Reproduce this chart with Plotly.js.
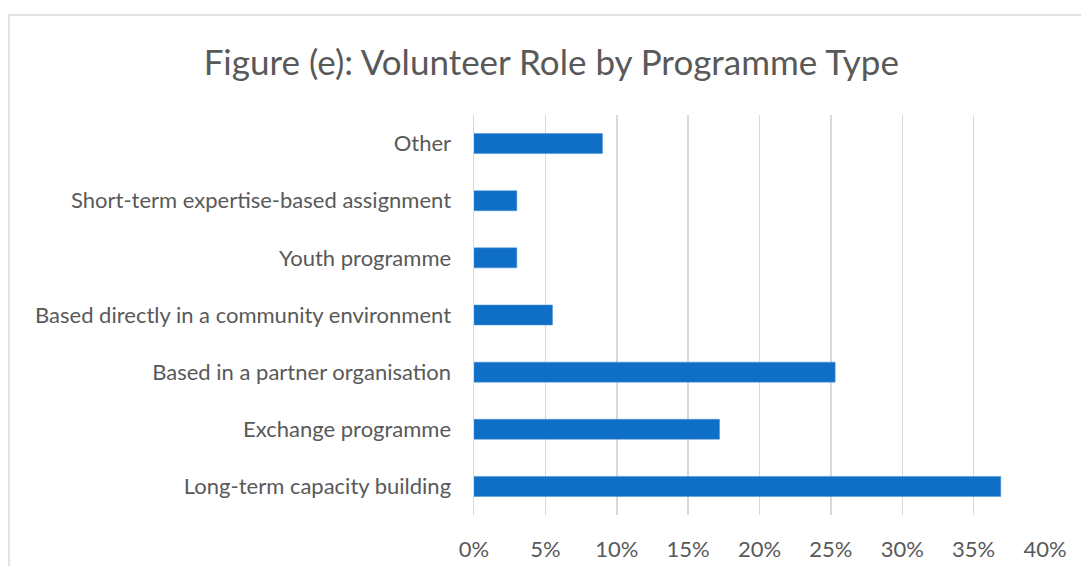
<!DOCTYPE html>
<html>
<head>
<meta charset="utf-8">
<script src="https://cdn.plot.ly/plotly-3.0.1.min.js"></script>
<style>html,body{margin:0;padding:0;background:#fff;}#chart{width:1081px;height:566px;}</style>
</head>
<body>
<div id="chart"></div>
<script>
const categories = [
  "Long-term capacity building",
  "Exchange programme",
  "Based in a partner organisation",
  "Based directly in a community environment",
  "Youth programme",
  "Short-term expertise-based assignment",
  "Other"
];
const values = [36.9, 17.2, 25.3, 5.5, 3.0, 3.0, 9.0];
const xTickVals = [0, 5, 10, 15, 20, 25, 30, 35, 40];
const xTickText = ["0%", "5%", "10%", "15%", "20%", "25%", "30%", "35%", "40%"];
const titleText = "Figure (e): Volunteer Role by Programme Type";

const fontFam = "Lato, 'Open Sans', sans-serif";
const trace = {
  type: 'bar',
  orientation: 'h',
  x: values,
  y: categories,
  marker: {color: '#0f6fc6', line: {color: '#4a90d9', width: 0.5}},
  hoverinfo: 'x+y'
};
const layout = {
  width: 1081, height: 566,
  margin: {l: 474, r: 36, t: 115, b: 51},
  paper_bgcolor: '#ffffff', plot_bgcolor: '#ffffff',
  showlegend: false,
  bargap: 0.65,
  font: {family: fontFam, color: '#595959', size: 22},
  title: {text: titleText, font: {family: fontFam, size: 35, color: '#595959'}, x: 0.51, xanchor: 'center', y: 0.89, yanchor: 'middle'},
  xaxis: {
    range: [0, 40], tickmode: 'array', tickvals: xTickVals, ticktext: xTickText,
    showgrid: true, gridcolor: '#d9d9d9', gridwidth: 1.5,
    zeroline: false, showline: false,
    ticks: 'outside', ticklen: 15, tickcolor: 'rgba(0,0,0,0)',
    tickfont: {family: fontFam, size: 22, color: '#595959'},
    fixedrange: true
  },
  yaxis: {
    type: 'category',
    showgrid: false, zeroline: false,
    showline: true, linecolor: '#d9d9d9', linewidth: 1.5,
    ticks: 'outside', ticklen: 17, tickcolor: 'rgba(0,0,0,0)',
    tickfont: {family: fontFam, size: 22, color: '#595959'},
    fixedrange: true
  },
  shapes: [{
    type: 'rect', xref: 'paper', yref: 'paper',
    x0: (9 - 474) / 571, x1: 2, y0: -1, y1: (515 - 15) / 400,
    line: {color: '#d9d9d9', width: 1.5}, fillcolor: 'rgba(0,0,0,0)', layer: 'below'
  }]
};
Plotly.newPlot('chart', [trace], layout, {displayModeBar: false, staticPlot: true});
</script>
</body>
</html>
